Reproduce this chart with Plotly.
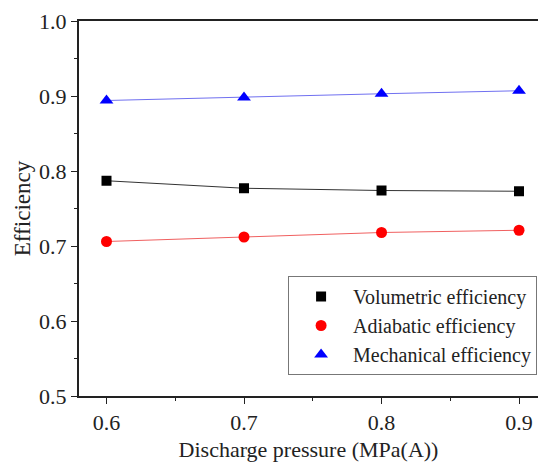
import plotly.graph_objects as go

pressure = [0.6, 0.7, 0.8, 0.9]
volumetric = [0.787, 0.777, 0.774, 0.773]
adiabatic = [0.706, 0.712, 0.718, 0.721]
mechanical = [0.894, 0.898, 0.903, 0.907]

series = [
    ("Volumetric efficiency", volumetric, "black", "#333333", "square", 10),
    ("Adiabatic efficiency", adiabatic, "red", "#f06060", "circle", 11),
    ("Mechanical efficiency", mechanical, "blue", "#7070f0", "triangle-up", 12),
]

fig = go.Figure()
for name, vals, mc, lc, sym, sz in series:
    fig.add_trace(go.Scatter(x=pressure, y=vals, mode="lines", line=dict(color=lc, width=1),
                             showlegend=False, hoverinfo="skip"))
for name, vals, mc, lc, sym, sz in series:
    fig.add_trace(go.Scatter(x=pressure, y=vals, mode="markers", name=name,
                             marker=dict(color=mc, symbol=sym, size=sz, line=dict(width=0))))

font = "Liberation Serif, Times New Roman, serif"
fig.update_layout(
    width=538, height=465,
    margin=dict(l=79, r=0, t=21, b=69),
    plot_bgcolor="white", paper_bgcolor="white",
    font=dict(family=font, size=22, color="#222"),
    showlegend=True,
    legend=dict(x=0.998, y=0.32, xanchor="right", yanchor="top",
                bordercolor="#777", borderwidth=1, bgcolor="white",
                font=dict(size=20, family=font), tracegroupgap=0, itemsizing="trace",
                itemwidth=54),
    xaxis=dict(range=[0.58, 0.9138], tickvals=[0.6, 0.7, 0.8, 0.9], ticktext=["0.6", "0.7", "0.8", "0.9"],
               ticks="outside", ticklen=6, tickwidth=1, tickcolor="#222",
               minor=dict(tickvals=[0.65, 0.75, 0.85], ticks="outside", ticklen=3, tickcolor="#222"),
               showline=True, linecolor="#222", linewidth=2, mirror=True, showgrid=False, zeroline=False,
               title=dict(text="Discharge pressure (MPa(A))", font=dict(size=22), standoff=7)),
    yaxis=dict(range=[0.5, 1.0], tickvals=[0.5, 0.6, 0.7, 0.8, 0.9, 1.0],
               ticktext=["0.5", "0.6", "0.7", "0.8", "0.9", "1.0"],
               ticks="outside", ticklen=6, tickwidth=1, tickcolor="#222",
               minor=dict(tickvals=[0.55, 0.65, 0.75, 0.85, 0.95], ticks="outside", ticklen=3, tickcolor="#222"),
               showline=True, linecolor="#222", linewidth=2, showgrid=False, zeroline=False,
               title=dict(text="Efficiency", font=dict(size=23), standoff=2)),
)
fig.write_html("out.html")
